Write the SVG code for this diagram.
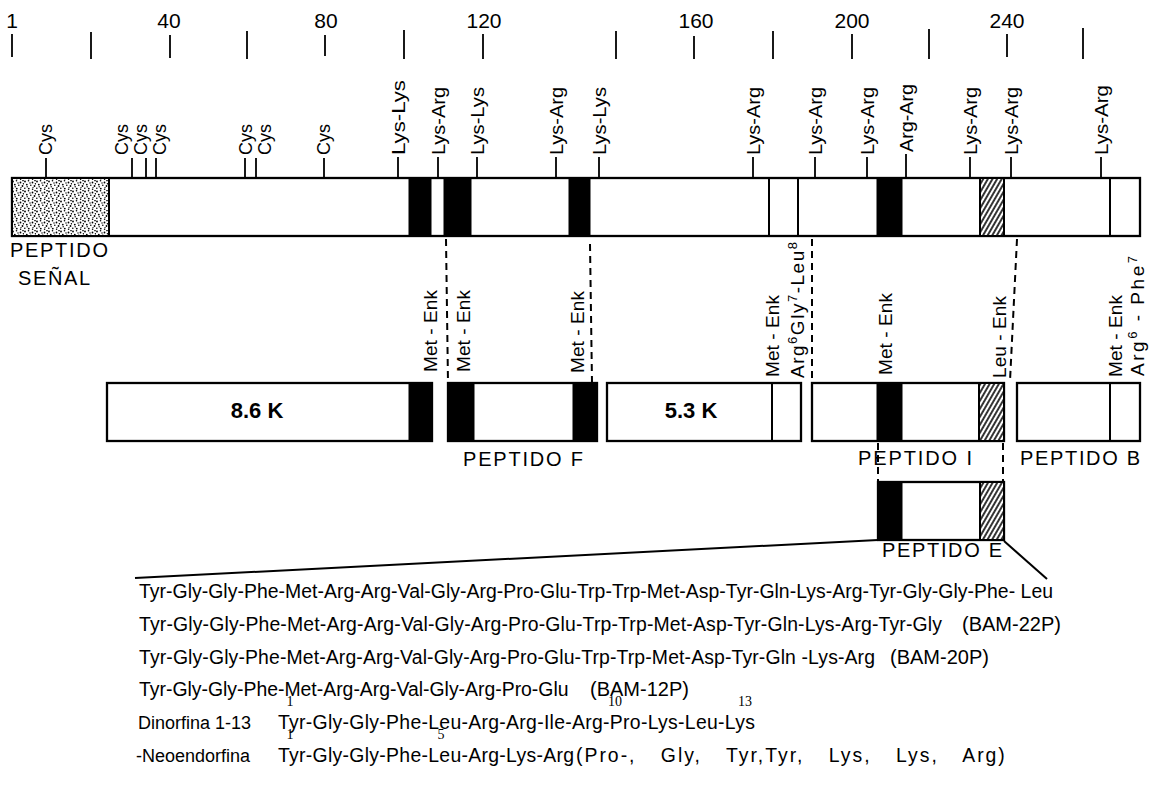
<svg xmlns="http://www.w3.org/2000/svg" width="1152" height="787" viewBox="0 0 1152 787">
<defs>
<pattern id="stip" width="12" height="10" patternUnits="userSpaceOnUse">
<rect width="12" height="10" fill="#fff"/>
<g fill="#000">
<circle cx="1" cy="1.5" r="0.9"/><circle cx="4.5" cy="0.8" r="0.8"/><circle cx="8.5" cy="2.5" r="0.9"/><circle cx="11" cy="0.6" r="0.8"/>
<circle cx="2.8" cy="4.6" r="0.9"/><circle cx="6.8" cy="5.3" r="0.8"/><circle cx="10.5" cy="6" r="0.9"/><circle cx="0.8" cy="8.2" r="0.8"/>
<circle cx="4.8" cy="8.6" r="0.9"/><circle cx="8.6" cy="9.2" r="0.8"/><circle cx="6" cy="3" r="0.7"/><circle cx="3.2" cy="6.8" r="0.7"/>
<circle cx="11.4" cy="3.8" r="0.7"/><circle cx="9" cy="7.6" r="0.7"/>
</g>
</pattern>
<pattern id="hatch" width="4" height="4" patternUnits="userSpaceOnUse" patternTransform="rotate(30)">
<rect width="4" height="4" fill="#fff"/>
<line x1="1" y1="0" x2="1" y2="4" stroke="#000" stroke-width="1.6"/>
</pattern>
</defs>
<style>
.t{font-family:"Liberation Sans",Arial,sans-serif;fill:#000}
.num{font-size:21px;text-anchor:middle}
.rl{font-size:19px}
.cy{font-size:18px}
.big{font-size:20px}
.bold{font-size:22px;font-weight:bold;text-anchor:middle}
.seq{font-size:19.4px}
.lab{font-size:18px}
.sup{font-family:"Liberation Serif","Times New Roman",serif;font-size:14px;text-anchor:middle}
.box{fill:#fff;stroke:#000;stroke-width:2.3}
.blk{fill:#000;stroke:#000;stroke-width:1}
.hat{fill:url(#hatch);stroke:#000;stroke-width:2}
.ln{stroke:#000;stroke-width:2;fill:none}
.tk{stroke:#000;stroke-width:1.8}
.dash{stroke:#000;stroke-width:2;stroke-dasharray:7 5;fill:none}
</style>

<g id="scale">
<g class="tk">
<line x1="12" y1="34" x2="12" y2="57"/><line x1="91" y1="32" x2="91" y2="59"/>
<line x1="170" y1="35" x2="170" y2="58"/><line x1="247" y1="31" x2="247" y2="59"/>
<line x1="325" y1="35" x2="325" y2="56"/><line x1="404" y1="30" x2="404" y2="59"/>
<line x1="483" y1="34" x2="483" y2="59"/><line x1="616" y1="31" x2="616" y2="59"/>
<line x1="694" y1="36" x2="694" y2="59"/><line x1="773" y1="31" x2="773" y2="59"/>
<line x1="852" y1="34" x2="852" y2="59"/><line x1="929" y1="29" x2="929" y2="59"/>
<line x1="1007" y1="34" x2="1007" y2="57"/><line x1="1083" y1="28" x2="1083" y2="59"/>
</g>
<text class="t num" x="12" y="28">1</text>
<text class="t num" x="169" y="28">40</text>
<text class="t num" x="326" y="28">80</text>
<text class="t num" x="484" y="28">120</text>
<text class="t num" x="696" y="28">160</text>
<text class="t num" x="852" y="28">200</text>
<text class="t num" x="1007" y="28">240</text>
</g>

<g id="precursor">
<rect class="box" x="12" y="178" width="1128" height="58"/>
<rect x="13" y="179" width="96" height="56" fill="url(#stip)"/>
<line class="ln" x1="109" y1="178" x2="109" y2="236"/>
<rect class="blk" x="409" y="178" width="22" height="58"/>
<rect class="blk" x="444" y="178" width="27" height="58"/>
<rect class="blk" x="569" y="178" width="21" height="58"/>
<rect class="blk" x="877" y="178" width="25" height="58"/>
<rect class="hat" x="980" y="178" width="24" height="58"/>
<line class="ln" x1="769" y1="178" x2="769" y2="236"/>
<line class="ln" x1="798" y1="178" x2="798" y2="236"/>
<line class="ln" x1="1110" y1="178" x2="1110" y2="236"/>
<g class="tk">
<line x1="46" y1="178" x2="46" y2="158"/><line x1="132" y1="178" x2="132" y2="158"/>
<line x1="146" y1="178" x2="146" y2="158"/><line x1="156" y1="178" x2="156" y2="158"/>
<line x1="245" y1="178" x2="245" y2="158"/><line x1="256" y1="178" x2="256" y2="158"/>
<line x1="324" y1="178" x2="324" y2="158"/><line x1="398" y1="178" x2="398" y2="157"/>
<line x1="438" y1="178" x2="438" y2="157"/><line x1="477" y1="178" x2="477" y2="157"/>
<line x1="556" y1="178" x2="556" y2="157"/><line x1="599" y1="178" x2="599" y2="157"/>
<line x1="753" y1="178" x2="753" y2="157"/><line x1="815" y1="178" x2="815" y2="157"/>
<line x1="867" y1="178" x2="867" y2="157"/><line x1="906" y1="178" x2="906" y2="154"/>
<line x1="970" y1="178" x2="970" y2="157"/><line x1="1011" y1="178" x2="1011" y2="157"/>
<line x1="1101" y1="178" x2="1101" y2="157"/>
</g>
<g class="t cy">
<text transform="translate(52,155) rotate(-90)">Cys</text>
<text transform="translate(128,155) rotate(-90)">Cys</text>
<text transform="translate(147,155) rotate(-90)">Cys</text>
<text transform="translate(166,155) rotate(-90)">Cys</text>
<text transform="translate(252,155) rotate(-90)">Cys</text>
<text transform="translate(271,155) rotate(-90)">Cys</text>
<text transform="translate(330,155) rotate(-90)">Cys</text>
</g>
<g class="t rl">
<text transform="translate(404.5,155) rotate(-90)" textLength="75" lengthAdjust="spacingAndGlyphs">Lys-Lys</text>
<text transform="translate(444.5,155) rotate(-90)" textLength="68" lengthAdjust="spacingAndGlyphs">Lys-Arg</text>
<text transform="translate(483.5,155) rotate(-90)" textLength="68" lengthAdjust="spacingAndGlyphs">Lys-Lys</text>
<text transform="translate(562.5,155) rotate(-90)" textLength="68" lengthAdjust="spacingAndGlyphs">Lys-Arg</text>
<text transform="translate(605.5,155) rotate(-90)" textLength="68" lengthAdjust="spacingAndGlyphs">Lys-Lys</text>
<text transform="translate(759.5,155) rotate(-90)" textLength="68" lengthAdjust="spacingAndGlyphs">Lys-Arg</text>
<text transform="translate(821.5,155) rotate(-90)" textLength="68" lengthAdjust="spacingAndGlyphs">Lys-Arg</text>
<text transform="translate(873.5,155) rotate(-90)" textLength="68" lengthAdjust="spacingAndGlyphs">Lys-Arg</text>
<text transform="translate(912.5,152) rotate(-90)" textLength="68" lengthAdjust="spacingAndGlyphs">Arg-Arg</text>
<text transform="translate(976.5,155) rotate(-90)" textLength="68" lengthAdjust="spacingAndGlyphs">Lys-Arg</text>
<text transform="translate(1017.5,155) rotate(-90)" textLength="68" lengthAdjust="spacingAndGlyphs">Lys-Arg</text>
<text transform="translate(1107.5,155) rotate(-90)" textLength="70" lengthAdjust="spacingAndGlyphs">Lys-Arg</text>
</g>
<text class="t big" x="10" y="257" textLength="98" lengthAdjust="spacing">PEPTIDO</text>
<text class="t big" x="18" y="285" textLength="72" lengthAdjust="spacing">SEÑAL</text>
</g>

<g id="connectors">
<line class="dash" x1="446" y1="239" x2="448" y2="383"/>
<line class="dash" x1="590" y1="244" x2="592" y2="383"/>
<line class="dash" x1="812" y1="239" x2="812" y2="383"/>
<line class="dash" x1="1017" y1="239" x2="1010" y2="381"/>
<line class="dash" x1="878" y1="443" x2="878" y2="482"/>
<line class="dash" x1="1003" y1="443" x2="1003" y2="482"/>
<line class="ln" x1="135" y1="578" x2="878" y2="540"/>
<line class="ln" x1="1004" y1="541" x2="1047" y2="579"/>
</g>

<g id="peptide-8-6k">
<rect class="box" x="107" y="383" width="325" height="58"/>
<rect class="blk" x="409" y="383" width="23" height="58"/>
<text class="t bold" x="257" y="418">8.6 K</text>
<text class="t rl" transform="translate(436.5,372) rotate(-90)" textLength="82" lengthAdjust="spacing">Met - Enk</text>
</g>

<g id="peptide-f">
<rect class="box" x="448" y="383" width="149" height="58"/>
<rect class="blk" x="448" y="383" width="26" height="58"/>
<rect class="blk" x="573" y="383" width="24" height="58"/>
<text class="t rl" transform="translate(469.5,372) rotate(-90)" textLength="82" lengthAdjust="spacing">Met - Enk</text>
<text class="t rl" transform="translate(583.5,373) rotate(-90)" textLength="82" lengthAdjust="spacing">Met - Enk</text>
<text class="t big" x="463" y="466" textLength="120" lengthAdjust="spacing">PEPTIDO F</text>
</g>

<g id="peptide-5-3k">
<rect class="box" x="607" y="383" width="194" height="58"/>
<line class="ln" x1="772" y1="383" x2="772" y2="441"/>
<text class="t bold" x="691" y="418">5.3 K</text>
<text class="t rl" transform="translate(778.5,377) rotate(-90)" textLength="82" lengthAdjust="spacing">Met - Enk</text>
<text class="t rl" transform="translate(803.5,378) rotate(-90)" textLength="136" lengthAdjust="spacing">Arg<tspan font-size="13" baseline-shift="super">6</tspan>Gly<tspan font-size="13" baseline-shift="super">7</tspan>-Leu<tspan font-size="13" baseline-shift="super">8</tspan></text>
</g>

<g id="peptide-i">
<rect class="box" x="812" y="383" width="192" height="58"/>
<rect class="blk" x="877" y="383" width="25" height="58"/>
<rect class="hat" x="979" y="383" width="25" height="58"/>
<text class="t rl" transform="translate(891.5,375) rotate(-90)" textLength="82" lengthAdjust="spacing">Met - Enk</text>
<text class="t rl" transform="translate(1005.5,378) rotate(-90)" textLength="82" lengthAdjust="spacing">Leu - Enk</text>
<text class="t big" x="858" y="465" textLength="114" lengthAdjust="spacing">PEPTIDO I</text>
</g>

<g id="peptide-b">
<rect class="box" x="1017" y="383" width="123" height="58"/>
<line class="ln" x1="1110" y1="383" x2="1110" y2="441"/>
<text class="t rl" transform="translate(1121.5,377) rotate(-90)" textLength="82" lengthAdjust="spacing">Met - Enk</text>
<text class="t rl" transform="translate(1143.5,376) rotate(-90)" textLength="120" lengthAdjust="spacing">Arg<tspan font-size="13" baseline-shift="super">6</tspan> - Phe<tspan font-size="13" baseline-shift="super">7</tspan></text>
<text class="t big" x="1020" y="465" textLength="120" lengthAdjust="spacing">PEPTIDO B</text>
</g>

<g id="peptide-e">
<rect class="box" x="878" y="482" width="126" height="58"/>
<rect class="blk" x="878" y="482" width="24" height="58"/>
<rect class="hat" x="980" y="482" width="24" height="58"/>
<text class="t big" x="882" y="557" textLength="120" lengthAdjust="spacing">PEPTIDO E</text>
</g>

<g id="sequences">
<text class="t seq" x="139" y="598" textLength="914" lengthAdjust="spacing">Tyr-Gly-Gly-Phe-Met-Arg-Arg-Val-Gly-Arg-Pro-Glu-Trp-Trp-Met-Asp-Tyr-Gln-Lys-Arg-Tyr-Gly-Gly-Phe- Leu</text>
<text class="t seq" x="139" y="631" textLength="803" lengthAdjust="spacing">Tyr-Gly-Gly-Phe-Met-Arg-Arg-Val-Gly-Arg-Pro-Glu-Trp-Trp-Met-Asp-Tyr-Gln-Lys-Arg-Tyr-Gly</text>
<text class="t big" x="962" y="631">(BAM-22P)</text>
<text class="t seq" x="139" y="664" textLength="736" lengthAdjust="spacing">Tyr-Gly-Gly-Phe-Met-Arg-Arg-Val-Gly-Arg-Pro-Glu-Trp-Trp-Met-Asp-Tyr-Gln -Lys-Arg</text>
<text class="t big" x="890" y="664">(BAM-20P)</text>
<text class="t seq" x="139" y="696">Tyr-Gly-Gly-Phe-Met-Arg-Arg-Val-Gly-Arg-Pro-Glu</text>
<text class="t big" x="590" y="696">(BAM-12P)</text>
<text class="t lab" x="138" y="729">Dinorfina 1-13</text>
<text class="t seq"><tspan x="278" y="729" letter-spacing="0.3">Tyr-Gly-Gly-Phe-Leu-Arg-Arg-Ile-Arg-Pro-Lys-Leu-Lys</tspan><tspan class="sup" x="290" y="706">1</tspan><tspan class="sup" x="615" y="706">10</tspan><tspan class="sup" x="745" y="706">13</tspan></text>
<text class="t lab" x="136" y="762">-Neoendorfina</text>
<text class="t seq"><tspan x="278" y="762" letter-spacing="0.3">Tyr-Gly-Gly-Phe-Leu-Arg-Lys-Arg</tspan><tspan x="576" y="762" letter-spacing="2" word-spacing="17">(Pro-, Gly, Tyr,Tyr, Lys, Lys, Arg)</tspan><tspan class="sup" x="290" y="739">1</tspan><tspan class="sup" x="441" y="739">5</tspan></text>
</g>
</svg>
